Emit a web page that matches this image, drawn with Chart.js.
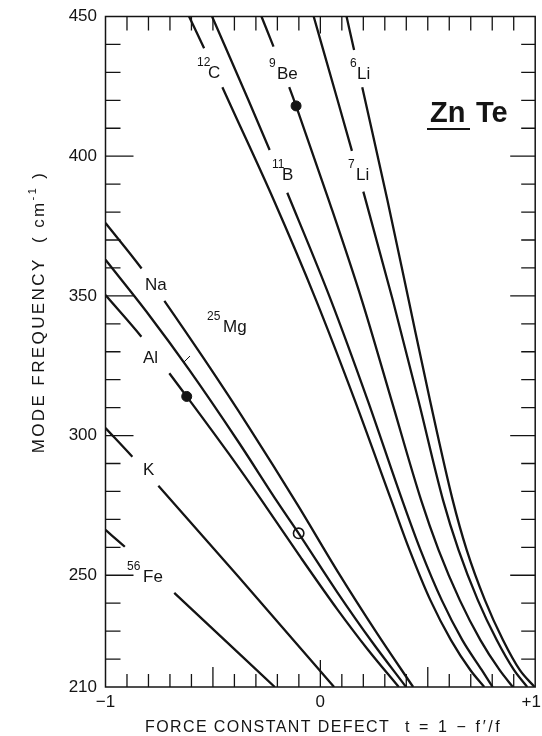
<!DOCTYPE html>
<html>
<head>
<meta charset="utf-8">
<script src="https://cdn.jsdelivr.net/npm/chart.js@4.4.0/dist/chart.umd.min.js"></script>
<style>
  html, body { margin: 0; padding: 0; background: #fff; }
  #wrap { position: relative; width: 542px; height: 736px; }
</style>
</head>
<body>
<div id="wrap"><canvas id="c"></canvas></div>
<script>
// Local-mode frequencies in ZnTe versus force constant defect t = 1 - f'/f,
// one curve per substitutional impurity.

// --- light impurities (steep family) ---
const tC12 = [-0.611, -0.541, -0.456, -0.429, -0.217, -0.020, 0.160, 0.330, 0.415, 0.512, 0.608, 0.698, 0.763];
const wC12 = [450, 438.6, 424.7, 420.1, 384.3, 348.5, 312.7, 276.9, 259.1, 241.1, 226.8, 216.1, 210];

const tB11 = [-0.504, -0.335, -0.236, -0.154, 0.049, 0.220, 0.381, 0.466, 0.565, 0.661, 0.751, 0.802];
const wB11 = [450, 420.1, 402.2, 386.9, 348.5, 312.7, 276.9, 259.1, 241.1, 226.8, 216.1, 210];

const tBe9 = [-0.274, -0.218, -0.145, -0.113, 0.039, 0.193, 0.331, 0.469, 0.550, 0.649, 0.745, 0.834, 0.896];
const wBe9 = [450, 439.2, 424.7, 418.0, 384.3, 348.5, 312.7, 276.9, 259.1, 241.1, 226.8, 216.1, 210];

const tLi7 = [-0.031, 0.080, 0.147, 0.200, 0.337, 0.456, 0.571, 0.643, 0.733, 0.821, 0.901, 0.963];
const wLi7 = [450, 420.1, 401.9, 387.3, 348.5, 312.7, 276.9, 259.1, 241.1, 226.8, 216.1, 210];

const tLi6 = [0.122, 0.157, 0.195, 0.312, 0.411, 0.510, 0.616, 0.681, 0.766, 0.850, 0.928, 0.997];
const wLi6 = [450, 438.0, 424.7, 384.3, 348.5, 312.7, 276.9, 259.1, 241.1, 226.8, 216.1, 210];

// --- heavier impurities ---
const tNa = [-1.000, -0.832, -0.726, -0.542, -0.335, -0.105, 0.080, 0.264, 0.432];
const wNa = [376.1, 359.8, 348.2, 327.5, 303.3, 275.1, 251.4, 229.2, 210];

const tMg25 = [-1.000, -0.795, -0.611, -0.381, -0.197, -0.101, 0.079, 0.241, 0.399];
const wMg25 = [362.9, 342.9, 323.6, 297.7, 275.9, 265.0, 243.9, 226.1, 210];

const tAl = [-1.000, -0.833, -0.703, -0.622, -0.427, -0.274, -0.090, 0.079, 0.217, 0.365];
const wAl = [350.3, 335.4, 322.3, 314.0, 293.6, 276.9, 256.2, 237.8, 223.8, 210];

const tK = [-1.000, -0.875, -0.754, -0.381, 0.064];
const wK = [302.7, 292.4, 282.0, 249.5, 210];

const tFe56 = [-1.000, -0.910, -0.680, -0.212];
const wFe56 = [266.2, 260.2, 243.7, 210];

// observed modes
const obsFilledT = [-0.113, -0.622];
const obsFilledW = [418.0, 314.0];
const obsOpenT = [-0.101];
const obsOpenW = [265.0];

// axis ticks
const xTickValues = [-1, 0, 1];
const xTickLabels = ['\u22121', '0', '+1'];
const yTickValues = [450, 400, 350, 300, 250, 210];
const yTickLabels = ['450', '400', '350', '300', '250', '210'];

// curves with the index of the segment left open for the label
const curves = [
  { t: tC12, w: wC12, gap: 1 },
  { t: tB11, w: wB11, gap: 2 },
  { t: tBe9, w: wBe9, gap: 1 },
  { t: tLi7, w: wLi7, gap: 2 },
  { t: tLi6, w: wLi6, gap: 1 },
  { t: tNa, w: wNa, gap: 1 },
  { t: tMg25, w: wMg25, gap: -1 },
  { t: tAl, w: wAl, gap: 1 },
  { t: tK, w: wK, gap: 1 },
  { t: tFe56, w: wFe56, gap: 1 }
];

const INK = '#141414';
const FONT = "'Liberation Sans', Arial, sans-serif";

const lineSets = curves.map(c => ({
  data: c.t.map((t, i) => ({ x: t, y: c.w[i] })),
  showLine: true,
  borderColor: INK,
  borderWidth: 2.3,
  pointRadius: 0,
  cubicInterpolationMode: 'monotone',
  segment: {
    borderColor: ctx => (ctx.p0DataIndex === c.gap ? 'rgba(0,0,0,0)' : undefined)
  }
}));

const markerSets = [
  {
    data: obsFilledT.map((t, i) => ({ x: t, y: obsFilledW[i] })),
    pointRadius: 5, pointBackgroundColor: INK, pointBorderColor: INK, pointBorderWidth: 1
  },
  {
    data: obsOpenT.map((t, i) => ({ x: t, y: obsOpenW[i] })),
    pointRadius: 5.2, pointBackgroundColor: '#fff', pointBorderColor: INK, pointBorderWidth: 1.6
  }
];

// text drawn in runs so superscripts can be mixed in
function drawRuns(ctx, x, y, runs) {
  let cx = x;
  runs.forEach(r => {
    ctx.font = r.font;
    ctx.fillText(r.text, cx, y + (r.dy || 0));
    cx += ctx.measureText(r.text).width;
  });
}

function isotope(ctx, mass, sym, x, y, symX) {
  ctx.font = '12px ' + FONT;
  if (mass) ctx.fillText(mass, x, y - 12);
  ctx.font = '17px ' + FONT;
  ctx.fillText(sym, symX, y);
}

const decor = {
  id: 'decor',
  afterDraw(chart) {
    const { ctx, chartArea: a, scales: { x, y } } = chart;
    ctx.save();
    ctx.strokeStyle = INK;
    ctx.fillStyle = INK;

    // frame
    ctx.lineWidth = 1.5;
    ctx.strokeRect(a.left, a.top, a.right - a.left, a.bottom - a.top);

    // inward ticks on all four sides
    ctx.lineWidth = 1.3;
    ctx.beginPath();
    for (let i = -9; i <= 9; i++) {
      const px = x.getPixelForValue(i / 10);
      const bl = i === 0 ? 27 : (i % 5 === 0 ? 20 : 13);
      const tl = i === 0 ? 17 : 14;
      ctx.moveTo(px, a.bottom); ctx.lineTo(px, a.bottom - bl);
      ctx.moveTo(px, a.top); ctx.lineTo(px, a.top + tl);
    }
    for (let v = 220; v <= 440; v += 10) {
      const py = y.getPixelForValue(v);
      const major = v % 50 === 0;
      ctx.moveTo(a.left, py); ctx.lineTo(a.left + (major ? 28 : 15), py);
      ctx.moveTo(a.right, py); ctx.lineTo(a.right - (major ? 25 : 14), py);
    }
    ctx.stroke();

    // tick labels
    ctx.font = '17px ' + FONT;
    ctx.textBaseline = 'middle';
    ctx.textAlign = 'right';
    yTickValues.forEach((v, i) => ctx.fillText(yTickLabels[i], 97, y.getPixelForValue(v)));
    const last = xTickValues.length - 1;
    xTickValues.forEach((v, i) => {
      ctx.textAlign = i === last ? 'right' : 'center';
      ctx.fillText(xTickLabels[i], i === last ? 541 : x.getPixelForValue(v), 702);
    });

    // axis titles
    ctx.textBaseline = 'alphabetic';
    ctx.textAlign = 'left';
    ctx.font = '16px ' + FONT;
    ctx.letterSpacing = '1.4px';
    ctx.fillText('FORCE CONSTANT DEFECT', 145, 732);
    ctx.letterSpacing = '2.6px';
    ctx.fillText('t = 1 \u2212 f\u2032/f', 405, 732);
    ctx.letterSpacing = '0px';

    ctx.save();
    ctx.translate(44, 312);
    ctx.rotate(-Math.PI / 2);
    ctx.letterSpacing = '2.4px';
    const parts = [
      { text: 'MODE FREQUENCY  ( cm', font: '17px ' + FONT },
      { text: '-1', font: '11px ' + FONT, dy: -8 },
      { text: ' )', font: '17px ' + FONT }
    ];
    let total = 0;
    parts.forEach(p => { ctx.font = p.font; total += ctx.measureText(p.text).width; });
    drawRuns(ctx, -total / 2, 0, parts);
    ctx.restore();
    ctx.letterSpacing = '0px';

    // curve labels
    ctx.textAlign = 'left';
    ctx.textBaseline = 'alphabetic';
    isotope(ctx, '12', 'C', 197, 78, 208);
    isotope(ctx, '9', 'Be', 269, 79, 277);
    isotope(ctx, '6', 'Li', 350, 79, 357);
    isotope(ctx, '11', 'B', 272, 180, 282);
    isotope(ctx, '7', 'Li', 348, 180, 356);
    isotope(ctx, '', 'Na', 145, 290, 145);
    isotope(ctx, '25', 'Mg', 207, 332, 223);
    isotope(ctx, '', 'Al', 143, 363, 143);
    isotope(ctx, '', 'K', 143, 475, 143);
    isotope(ctx, '56', 'Fe', 127, 582, 143);

    // pointer from the Mg label to its curve
    ctx.lineWidth = 1;
    ctx.beginPath();
    ctx.moveTo(184, 362); ctx.lineTo(190, 356);
    ctx.stroke();

    // compound name
    ctx.font = 'bold 29px ' + FONT;
    ctx.fillText('Zn', 430, 122);
    ctx.fillText('Te', 476, 122);
    ctx.lineWidth = 2.2;
    ctx.beginPath();
    ctx.moveTo(427, 129); ctx.lineTo(470, 129);
    ctx.stroke();

    ctx.restore();
  }
};

new Chart(document.getElementById('c'), {
  type: 'scatter',
  data: { datasets: lineSets.concat(markerSets) },
  options: {
    responsive: true,
    maintainAspectRatio: false,
    devicePixelRatio: 1,
    animation: false,
    layout: { padding: { left: 105.5, right: 2, top: 16.5, bottom: 49 } },
    plugins: { legend: { display: false }, tooltip: { enabled: false } },
    scales: {
      x: { type: 'linear', min: -1, max: 1, display: false },
      y: { type: 'linear', min: 210, max: 450, display: false }
    }
  },
  plugins: [decor]
});
</script>
</body>
</html>
